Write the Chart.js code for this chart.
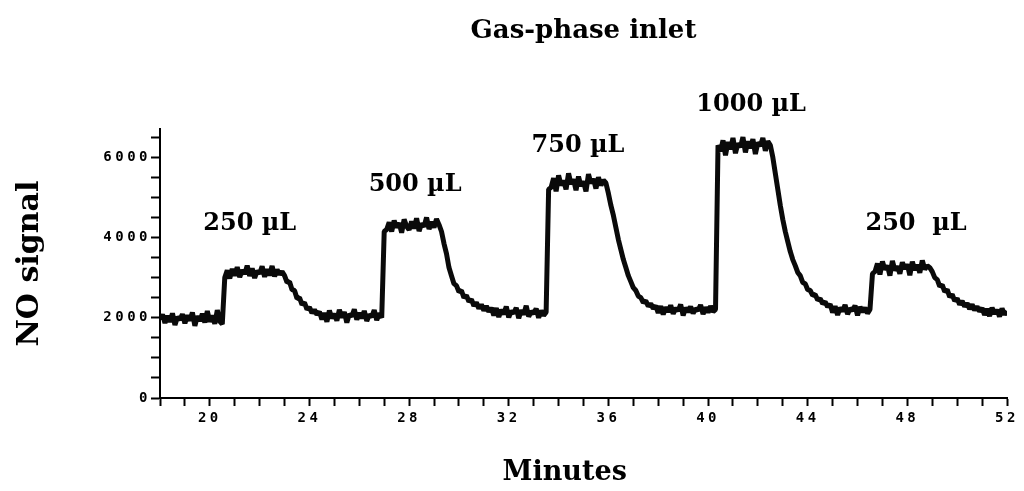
<!DOCTYPE html>
<html>
<head>
<meta charset="utf-8">
<title>Gas-phase inlet</title>
<script src="https://cdn.jsdelivr.net/npm/chart.js@4.4.1/dist/chart.umd.min.js"></script>
<style>
  html, body { margin: 0; padding: 0; background: #fff; }
  #wrap { width: 1024px; height: 491px; }
</style>
</head>
<body>
<div id="wrap"><canvas id="noChart" width="1024" height="491"></canvas></div>
<script>
// NO detector trace, one reading every 0.1 min from 18 to 52 min
const startMin = 18;
const stepMin = 0.1;
const signal = [
    // 18.0 - 20.5 baseline
    1960, 2080, 1870, 2050, 1900, 2110, 1820, 2020, 1950, 2090,
    1860, 2060, 1930, 2130, 1800, 2040, 1920, 2100, 1880, 2170,
    1900, 2060, 1850, 2190, 1910, 1840,
    // 20.6 injection (250 uL)
    3000,
    // 20.7 - 22.9
    3180, 2980, 3220, 3050, 3260, 3010, 3190, 3090, 3300, 3040,
    3230, 2990, 3170, 3100, 3280, 3020, 3210, 3060, 3290, 3030,
    3200, 3080, 3150,
    // 23.0 - 24.3 washout
    3050, 2880, 2900, 2700, 2680, 2480, 2500, 2330, 2380, 2210,
    2260, 2120, 2200, 2080,
    // 24.4 - 26.9
    2150, 1960, 2120, 1900, 2180, 1990, 2100, 1930, 2200, 2010,
    2140, 1880, 2090, 2030, 2210, 1950, 2120, 1990, 2170, 1920,
    2080, 2020, 2190, 1940, 2110, 2000,
    // 27.0 injection (500 uL)
    4150,
    // 27.1 - 29.2
    4200, 4380, 4150, 4420, 4250, 4360, 4120, 4450, 4280, 4190,
    4400, 4230, 4480, 4160, 4350, 4270, 4500, 4210, 4390, 4250,
    4460, 4320,
    // 29.3 - 31.3 washout
    4150, 3850, 3600, 3250, 3050, 2850, 2800, 2650, 2680, 2500,
    2560, 2400, 2460, 2300, 2380, 2230, 2330, 2180, 2290, 2150,
    2250,
    // 31.4 - 33.5
    2060, 2240, 2020, 2200, 2090, 2280, 2010, 2170, 2110, 2250,
    1990, 2190, 2080, 2300, 2030, 2160, 2100, 2230, 2000, 2180,
    2060, 2140,
    // 33.6 injection (750 uL)
    5200,
    // 33.7 - 35.9
    5250, 5480, 5150, 5550, 5300, 5420, 5200, 5600, 5330, 5450,
    5180, 5520, 5280, 5400, 5150, 5580, 5350, 5460, 5220, 5500,
    5300, 5430, 5360,
    // 36.0 - 37.9 washout
    5100, 4800, 4550, 4250, 3950, 3700, 3450, 3250, 3050, 2900,
    2750, 2680, 2540, 2500, 2380, 2420, 2290, 2350, 2230, 2300,
    // 38.0 - 40.3
    2120, 2290, 2080, 2260, 2150, 2310, 2100, 2240, 2170, 2330,
    2060, 2250, 2140, 2280, 2110, 2230, 2180, 2320, 2090, 2260,
    2130, 2290, 2150, 2210,
    // 40.4 injection (1000 uL)
    6300,
    // 40.5 - 42.5
    6150, 6420, 6050, 6380, 6200, 6480, 6100, 6350, 6250, 6500,
    6120, 6400, 6230, 6450, 6080, 6370, 6280, 6480, 6160, 6400,
    6300,
    // 42.6 - 44.9 washout
    6000, 5600, 5200, 4800, 4450, 4150, 3900, 3650, 3450, 3300,
    3130, 3050, 2880, 2850, 2700, 2680, 2560, 2580, 2440, 2480,
    2350, 2400, 2270, 2340,
    // 45.0 - 46.5
    2130, 2290, 2070, 2250, 2160, 2320, 2090, 2230, 2180, 2300,
    2060, 2270, 2140, 2250, 2110, 2210,
    // 46.6 injection (250 uL)
    3100,
    // 46.7 - 48.9
    3150, 3350, 3080, 3400, 3200, 3300, 3050, 3420, 3180, 3280,
    3100, 3380, 3220, 3330, 3060, 3400, 3190, 3320, 3120, 3430,
    3210, 3300, 3250,
    // 49.0 - 50.9 washout
    3150, 3000, 2950, 2780, 2820, 2650, 2700, 2520, 2580, 2420,
    2480, 2330, 2420, 2280, 2360, 2220, 2330, 2190, 2280, 2160,
    // 51.0 - 52.0
    2240, 2070, 2220, 2040, 2250, 2100, 2200, 2030, 2230, 2080,
    2170
];
const xLabelled = [20, 24, 28, 32, 36, 40, 44, 48, 52];
const yTicks = [0, 500, 1000, 1500, 2000, 2500, 3000, 3500, 4000, 4500, 5000, 5500, 6000, 6500];
const yLabelled = [0, 2000, 4000, 6000];
const volumes = ['250 µL', '500 µL', '750 µL', '1000 µL', '250  µL'];

const points = signal.map((v, i) => ({ x: +(startMin + i * stepMin).toFixed(1), y: v }));

// plotter-style tick labels get wide letter spacing; the volume captions are
// written over the plot afterwards
const doseLabels = {
    id: 'doseLabels',
    afterDatasetsDraw(chart) {
        chart.ctx.letterSpacing = '3.5px';
    },
    afterDraw(chart, args, opts) {
        const ctx = chart.ctx;
        const xs = chart.scales.x;
        const ys = chart.scales.y;
        ctx.letterSpacing = '0px';
        ctx.save();
        ctx.font = opts.font;
        ctx.fillStyle = '#000';
        ctx.textAlign = 'center';
        ctx.textBaseline = 'middle';
        volumes.forEach((txt, i) => {
            const a = opts.anchors[i];
            ctx.fillText(txt, xs.getPixelForValue(a[0]), ys.getPixelForValue(a[1]));
        });
        ctx.restore();
    }
};

new Chart(document.getElementById('noChart'), {
    type: 'line',
    data: {
        datasets: [{
            data: points,
            borderColor: '#0a0a0a',
            borderWidth: 5,
            borderJoinStyle: 'bevel',
            pointRadius: 0,
            tension: 0,
            fill: false
        }]
    },
    options: {
        responsive: false,
        animation: false,
        events: [],
        layout: { padding: { left: 10, right: 17, top: 0, bottom: 2 } },
        plugins: {
            legend: { display: false },
            tooltip: { enabled: false },
            title: {
                display: true,
                fullSize: false,
                text: 'Gas-phase inlet',
                color: '#000',
                font: { family: 'DejaVu Serif', size: 26, weight: 'bold' },
                padding: { top: 16, bottom: 82 }
            },
            doseLabels: {
                font: 'bold 24px "DejaVu Serif"',
                anchors: [[21.6, 4350], [28.24, 5325], [34.78, 6275], [41.73, 7300], [48.35, 4350]]
            }
        },
        scales: {
            x: {
                type: 'linear',
                min: 18,
                max: 52,
                afterFit(scale) { scale.height = 91; },
                border: { display: true, color: '#000', width: 2 },
                grid: { drawOnChartArea: false, drawTicks: true, tickLength: 8, tickColor: '#000', tickWidth: 2 },
                ticks: {
                    z: 1,
                    stepSize: 1,
                    autoSkip: false,
                    maxRotation: 0,
                    padding: 4,
                    color: '#000',
                    font: { family: 'DejaVu Sans Mono', size: 14, weight: 'bold' },
                    callback: v => xLabelled.includes(v) ? String(v) : ''
                },
                title: {
                    display: true,
                    text: 'Minutes    ',
                    color: '#000',
                    font: { family: 'DejaVu Serif', size: 27, weight: 'bold' },
                    padding: { top: 0, bottom: 0 }
                }
            },
            y: {
                min: 0,
                max: 6700,
                afterFit(scale) { scale.width = 150; },
                afterBuildTicks(scale) { scale.ticks = yTicks.map(v => ({ value: v })); },
                border: { display: true, color: '#000', width: 2 },
                grid: { drawOnChartArea: false, drawTicks: true, tickLength: 9, tickColor: '#000', tickWidth: 2 },
                ticks: {
                    z: 1,
                    padding: 0,
                    color: '#000',
                    font: { family: 'DejaVu Sans Mono', size: 14, weight: 'bold' },
                    callback: v => yLabelled.includes(v) ? String(v) : ''
                },
                title: {
                    display: true,
                    text: 'NO signal',
                    color: '#000',
                    font: { family: 'DejaVu Serif', size: 30, weight: 'bold' },
                    padding: { top: 2, bottom: 0 }
                }
            }
        }
    },
    plugins: [doseLabels]
});
</script>
</body>
</html>
